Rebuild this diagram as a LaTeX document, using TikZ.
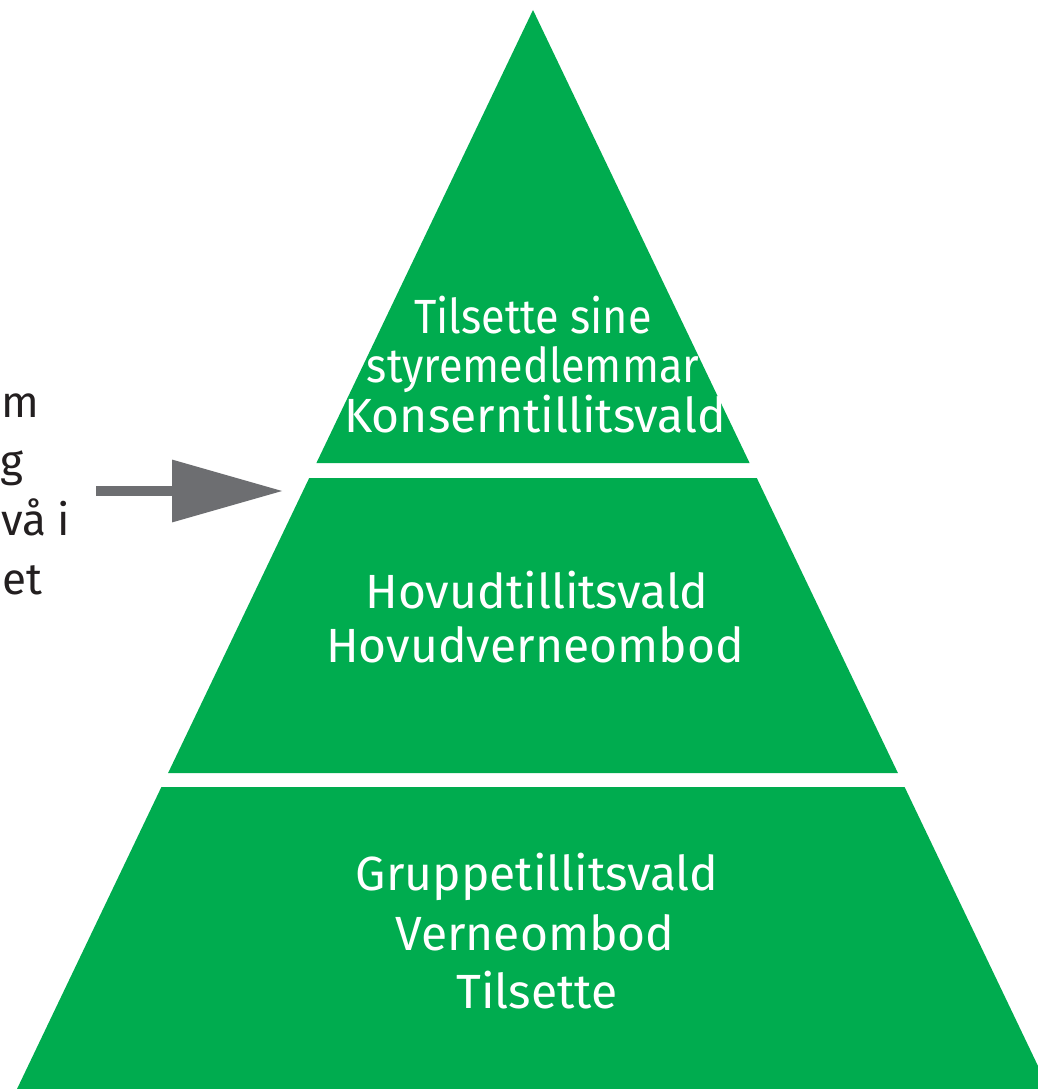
\documentclass[tikz,border=0pt]{standalone}
\usepackage{fontspec}
\setmainfont{Fira Sans}
\usetikzlibrary{arrows.meta}
\definecolor{pgreen}{HTML}{00AC4F}
\definecolor{agray}{HTML}{6D6E71}
\definecolor{tdark}{HTML}{231F20}
\tikzset{
  band/.style={fill=pgreen, draw=none},
  lbl/.style={text=white, anchor=base, inner sep=0pt, font=\fontsize{48}{56}\selectfont},
  narrow/.style={xscale=0.9},
  side/.style={text=tdark, anchor=base west, inner sep=0pt, font=\fontsize{44}{56}\selectfont},
  pointer/.style={draw=agray, line width=10pt, -{Triangle[length=111pt,width=60pt]}}
}
\begin{document}
\begin{tikzpicture}[x=1pt,y=-1pt]
\path[use as bounding box] (0,0) rectangle (1038,1089);
\clip (0,0) rectangle (1038,1089);
% pyramid bands
\path[band] (533,10) -- (749.6,463) -- (316.4,463) -- cycle;
\path[band] (309.2,478) -- (756.8,478) -- (897.9,773) -- (168.1,773) -- cycle;
\path[band] (161.4,787) -- (904.6,787) -- (1049,1089) -- (17,1089) -- cycle;
% top
\node[lbl,narrow] (t1) at (533,333) {Tilsette sine};
\node[lbl,narrow] (t2) at (533,382) {styremedlemmar};
\node[lbl] (t3) at (535,432) {Konserntillitsvald};
% middle
\node[lbl] (m1) at (537,608) {Hovudtillitsvald};
\node[lbl] (m2) at (535,662) {Hovudverneombod};
% bottom
\node[lbl] (b1) at (537,890) {Gruppetillitsvald};
\node[lbl] (b2) at (535,950) {Verneombod};
\node[lbl] (b3) at (537,1008) {Tilsette};
% left text fragments
\node[side] (s1) at (1,417) {m};
\node[side] (s2) at (0,476) {g};
\node[side] (s3) at (1,535) {vå i};
\node[side] (s4) at (2,594) {et};
% arrow
\coordinate (astart) at (96,491);
\coordinate (atip) at (283,491);
\draw[pointer] (astart) -- (atip);
\end{tikzpicture}
\end{document}
